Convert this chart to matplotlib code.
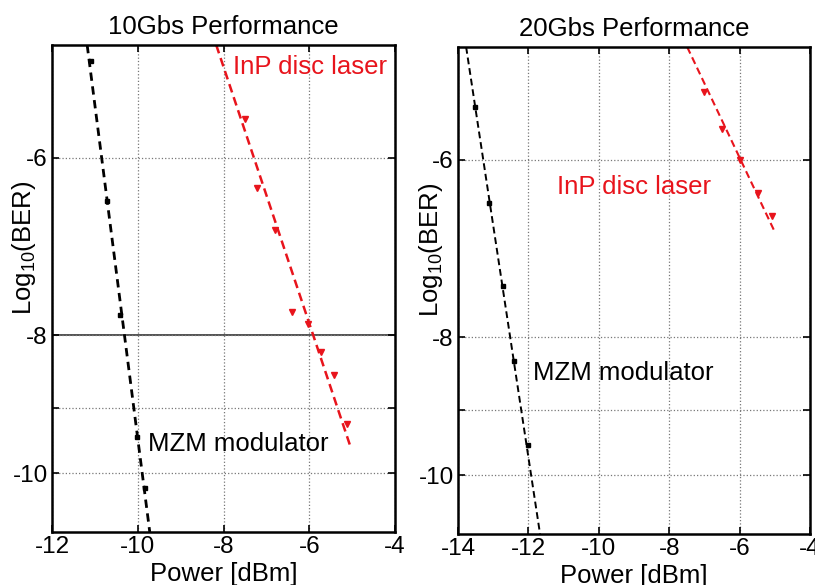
#!/usr/bin/env python3

import numpy as np
import matplotlib
matplotlib.use('Agg')
import matplotlib.pyplot as plt

plt.rcParams['font.family'] = ['Liberation Sans', 'DejaVu Sans']
plt.rcParams['mathtext.fontset'] = 'custom'
plt.rcParams['mathtext.rm'] = 'Liberation Sans'
plt.rcParams['mathtext.it'] = 'Liberation Sans:italic'
plt.rcParams['axes.unicode_minus'] = False

# 10 Gb/s panel
mzm10_x = [-11.10, -10.71, -10.42, -10.02, -9.82]
mzm10_y = [-5.13, -6.44, -7.74, -9.43, -10.24]
mzm10_fit_x = [-11.18, -9.72]
mzm10_fit_y = [-5.0, -11.0]
inp10_x = [-7.51, -7.23, -6.81, -6.41, -6.02, -5.73, -5.42, -5.13]
inp10_y = [-5.64, -6.30, -6.75, -7.71, -7.86, -8.22, -8.53, -9.23]
inp10_fit_x = [-8.17, -5.05]
inp10_fit_y = [-5.0, -9.56]

# 20 Gb/s panel
mzm20_x = [-13.52, -13.11, -12.71, -12.40, -12.00]
mzm20_y = [-5.51, -6.44, -7.36, -8.31, -9.53]
mzm20_fit_x = [-13.77, -11.67]
mzm20_fit_y = [-5.0, -11.0]
inp20_x = [-7.00, -6.49, -5.99, -5.49, -5.09]
inp20_y = [-5.38, -5.71, -6.00, -6.33, -6.57]
inp20_fit_x = [-7.49, -5.02]
inp20_fit_y = [-5.0, -6.73]

titles = ['10Gbs Performance', '20Gbs Performance']
xlims = [(-12, -4), (-14, -4)]
yticks = [-10, -9, -8, -6]
ytick_labels = ['-10', '', '-8', '-6']


def fwd(v):
    v = np.asarray(v, dtype=float)
    return -np.log(np.clip(-v, 1e-9, None))


def inv(u):
    return -np.exp(-np.asarray(u, dtype=float))


def setup(ax, xlim, title):
    ax.set_yscale('function', functions=(fwd, inv))
    ax.set_xlim(*xlim)
    ax.set_ylim(-11, -5)
    ax.set_xticks(np.arange(xlim[0], xlim[1] + 1, 2))
    ax.set_yticks(yticks)
    ax.set_yticklabels(ytick_labels)
    ax.minorticks_off()
    ax.tick_params(direction='in', length=5, width=1.2, top=True, right=True,
                   labelsize=17.5, pad=3)
    ax.grid(True, linestyle=':', color='#777777', linewidth=0.9)
    for s in ax.spines.values():
        s.set_linewidth(1.8)
    ax.set_title(title, fontsize=18.5, pad=8)
    ax.set_xlabel('Power [dBm]', fontsize=18.5, labelpad=3)
    ax.set_ylabel(r'Log$_{\mathrm{10}}$(BER)', fontsize=18.5)


fig = plt.figure(figsize=(8.15, 5.85), dpi=100)

ax1 = fig.add_axes([0.0638, 0.0906, 0.4209, 0.8325])
setup(ax1, xlims[0], titles[0])
ax1.axhline(-8, color='#444444', linewidth=1.3, zorder=1)
ax1.plot(mzm10_fit_x, mzm10_fit_y, '--', color='black', lw=2.0, dashes=(3, 2))
ax1.plot(mzm10_x, mzm10_y, 's', color='black', ms=3.5)
ax1.plot(inp10_fit_x, inp10_fit_y, '--', color='#e8141c', lw=1.8, dashes=(3.5, 2))
ax1.plot(inp10_x, inp10_y, 'v', color='#e8141c', ms=5)
ax1.text(0.528, 0.955, 'InP disc laser', color='#e8141c', fontsize=18.5,
         transform=ax1.transAxes, va='center', ha='left')
ax1.text(0.28, 0.181, 'MZM modulator', color='black', fontsize=18.5,
         transform=ax1.transAxes, va='center', ha='left')
ax1.yaxis.set_label_coords(-0.041, 0.583)

ax2 = fig.add_axes([0.562, 0.0872, 0.4319, 0.8325])
setup(ax2, xlims[1], titles[1])
ax2.plot(mzm20_fit_x, mzm20_fit_y, '--', color='black', lw=1.4, dashes=(3.5, 2))
ax2.plot(mzm20_x, mzm20_y, 's', color='black', ms=3.5)
ax2.plot(inp20_fit_x, inp20_fit_y, '--', color='#e8141c', lw=1.5, dashes=(3.5, 2))
ax2.plot(inp20_x, inp20_y, 'v', color='#e8141c', ms=5)
ax2.text(0.28, 0.713, 'InP disc laser', color='#e8141c', fontsize=18.5,
         transform=ax2.transAxes, va='center', ha='left')
ax2.text(0.212, 0.331, 'MZM modulator', color='black', fontsize=18.5,
         transform=ax2.transAxes, va='center', ha='left')
ax2.yaxis.set_label_coords(-0.037, 0.583)

fig.savefig('out.png', dpi=100)
